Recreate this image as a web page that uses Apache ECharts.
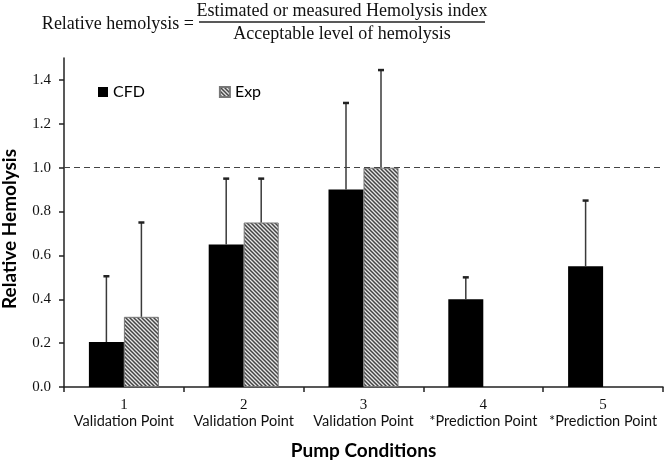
<!DOCTYPE html>
<html>
<head>
<meta charset="utf-8">
<script src="https://cdn.jsdelivr.net/npm/echarts@6/dist/echarts.min.js"></script>
<style>
html,body{margin:0;padding:0;background:#fff;}
#chart{width:666px;height:460px;}
</style>
</head>
<body>
<div id="chart"></div>
<script>
// ---- data ----
var categories = ['1', '2', '3', '4', '5'];
var categoryNotes = ['Validation Point', 'Validation Point', 'Validation Point', '*Prediction Point', '*Prediction Point'];
var cfdValues = [0.205, 0.65, 0.90, 0.40, 0.55];
var cfdUpper  = [0.505, 0.95, 1.295, 0.50, 0.85];
var expValues = [0.32, 0.75, 1.00, null, null];
var expUpper  = [0.75, 0.95, 1.445, null, null];
var yTicks = [0, 0.2, 0.4, 0.6, 0.8, 1.0, 1.2, 1.4];
var thresholdValue = 1.0;

// hatch pattern for Exp
var tile = document.createElement('canvas');
var TW = 4;
tile.width = TW; tile.height = TW;
var cx = tile.getContext('2d');
cx.fillStyle = '#e6e6e6';
cx.fillRect(0, 0, TW, TW);
cx.strokeStyle = '#444';
cx.lineWidth = 1.5;
for (var k = -1; k <= 1; k++) {
  cx.beginPath();
  cx.moveTo(k * TW - 1, -1);
  cx.lineTo(k * TW + TW + 1, TW + 1);
  cx.stroke();
}
var hatch = { image: tile, repeat: 'repeat' };

var BAR_W = 35;

function errData(vals, ups) {
  var out = [];
  for (var i = 0; i < vals.length; i++) {
    if (vals[i] != null && ups[i] != null) out.push([i, ups[i], vals[i]]);
  }
  return out;
}
function errRender(offset) {
  return function (params, api) {
    var top = api.coord([api.value(0), api.value(1)]);
    var base = api.coord([api.value(0), api.value(2)]);
    var x = top[0] + offset;
    return {
      type: 'group',
      children: [
        { type: 'line', shape: { x1: x, y1: base[1], x2: x, y2: top[1] },
          style: { stroke: '#3a3a3a', lineWidth: 1.5 } },
        { type: 'line', shape: { x1: x - 3, y1: top[1], x2: x + 3, y2: top[1] },
          style: { stroke: '#222', lineWidth: 2.5 } }
      ]
    };
  };
}

var chart = echarts.init(document.getElementById('chart'), null, { renderer: 'canvas' });
var option = {
  animation: false,
  backgroundColor: '#fff',
  grid: { left: 64, right: 3, top: 58, bottom: 73, containLabel: false, outerBoundsMode: 'none' },
  legend: {
    data: ['CFD', 'Exp'],
    left: 93, top: 79,
    icon: 'rect', itemWidth: 10, itemHeight: 10, itemGap: 74,
    textStyle: { fontFamily: 'Lato', fontSize: 16, color: '#000' }
  },
  graphic: [
    { type: 'text', x: 194, y: 24,
      style: { text: 'Relative hemolysis =', fontFamily: 'Liberation Serif', fontSize: 18,
               fill: '#111', align: 'right', verticalAlign: 'middle' } },
    { type: 'text', x: 342, y: 11,
      style: { text: 'Estimated or measured Hemolysis index', fontFamily: 'Liberation Serif', fontSize: 18,
               fill: '#111', align: 'center', verticalAlign: 'middle' } },
    { type: 'line', shape: { x1: 199, y1: 22, x2: 485, y2: 22 },
      style: { stroke: '#222', lineWidth: 1.5 } },
    { type: 'text', x: 342, y: 34,
      style: { text: 'Acceptable level of hemolysis', fontFamily: 'Liberation Serif', fontSize: 18,
               fill: '#111', align: 'center', verticalAlign: 'middle' } }
  ],
  xAxis: {
    type: 'category',
    data: categories,
    boundaryGap: true,
    name: 'Pump Conditions',
    nameLocation: 'middle',
    nameGap: 54,
    nameTextStyle: { fontFamily: 'Lato', fontWeight: 'bold', fontSize: 19, color: '#000' },
    axisLine: { lineStyle: { color: '#222', width: 1.5 } },
    axisTick: { show: true, alignWithLabel: false, length: 5, lineStyle: { color: '#222', width: 1.5 } },
    axisLabel: {
      margin: 10,
      interval: 0,
      formatter: function (v, i) { return '{n|' + v + '}\n{t|' + categoryNotes[i] + '}'; },
      rich: {
        n: { fontFamily: 'Liberation Serif', fontSize: 15, color: '#111', lineHeight: 16 },
        t: { fontFamily: 'Lato', fontSize: 14.5, color: '#111', lineHeight: 17 }
      }
    },
    splitLine: { show: false }
  },
  yAxis: {
    type: 'value',
    min: 0, max: 1.5, interval: 0.2,
    name: 'Relative Hemolysis',
    nameLocation: 'middle',
    nameGap: 45,
    nameTextStyle: { fontFamily: 'Lato', fontWeight: 'bold', fontSize: 19, color: '#000', padding: [0, 13, 0, 0] },
    axisLine: { show: true, lineStyle: { color: '#222', width: 1.5 } },
    axisTick: { show: true, length: 5, lineStyle: { color: '#222', width: 1.5 } },
    axisLabel: {
      margin: 13,
      showMaxLabel: false,
      fontFamily: 'Liberation Serif', fontSize: 15, color: '#111',
      formatter: function (v) {
        for (var i = 0; i < yTicks.length; i++) if (Math.abs(yTicks[i] - v) < 1e-6) return v.toFixed(1);
        return '';
      }
    },
    splitLine: { show: false }
  },
  series: [
    {
      name: 'CFD', type: 'bar', data: cfdValues,
      barWidth: BAR_W, barGap: '0%',
      itemStyle: { color: '#000' },
      markLine: {
        silent: true, symbol: ['none', 'none'],
        label: { show: false },
        lineStyle: { type: [6, 4], color: '#444', width: 1.2 },
        data: [{ yAxis: thresholdValue }]
      }
    },
    {
      name: 'Exp', type: 'bar', data: expValues,
      barWidth: BAR_W,
      itemStyle: { color: hatch, borderColor: '#777', borderWidth: 1 }
    },
    {
      name: 'CFD err', type: 'custom', data: errData(cfdValues, cfdUpper),
      renderItem: errRender(-BAR_W / 2), z: 5, silent: true
    },
    {
      name: 'Exp err', type: 'custom', data: errData(expValues, expUpper),
      renderItem: errRender(BAR_W / 2), z: 5, silent: true
    }
  ]
};
chart.setOption(option);
</script>
</body>
</html>
